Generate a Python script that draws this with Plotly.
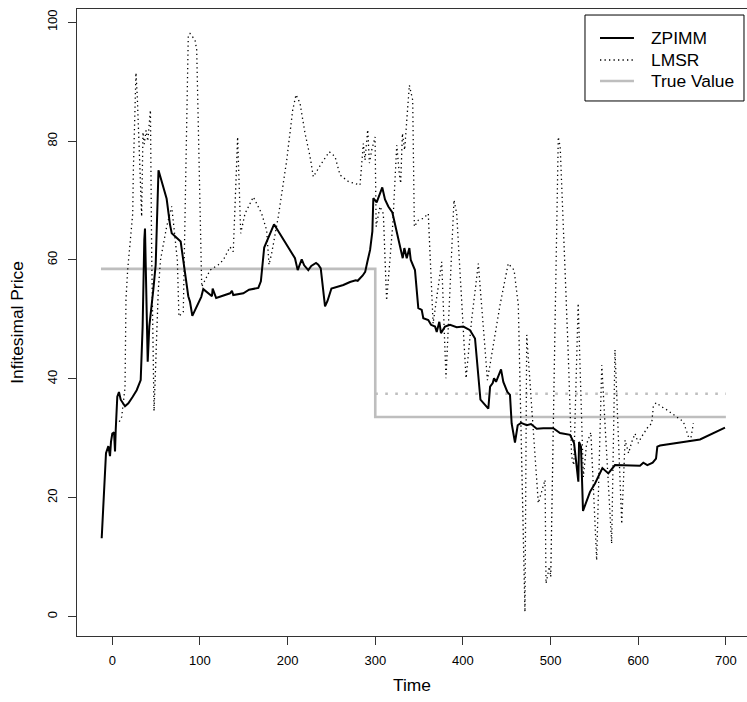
import plotly.graph_objects as go

# ZPIMM market-maker price path
zpimm_t = [-12.1, -7.2, -4.5, -2.6, -1.5, 0, 2, 3.1, 3.9, 5.7, 7.6, 9.6, 14.5, 18.3, 23.3, 27.8, 32.4,
           34.6, 36.5, 37.3, 40.4, 42.2, 46.8, 49.5, 52.7, 62, 65.8, 67.8, 78, 82.2, 86.7, 88.6, 91.3,
           101.5, 103.8, 113.7, 114.5, 118.5, 134.3, 136.5, 138, 149.5, 156, 166.6, 169.5, 173.3, 179.9,
           184.5, 208.4, 211.5, 216.1, 218.9, 223.6, 227, 232.4, 235, 237.8, 240.3, 242.7, 245.5, 250,
           263.6, 267.5, 271.2, 277.7, 280, 285.7, 288.5, 291, 294.1, 296.7, 297.8, 301.6, 308, 311.1,
           314.9, 319.5, 324.5, 328.2, 331.3, 333.2, 335.9, 338.9, 340.5, 345.3, 349.1, 353, 354.8,
           360.5, 363.6, 368.2, 370.1, 373.1, 375, 379.6, 385.3, 392.9, 400.5, 408.1, 413.8, 420, 429,
           431, 434, 435.5, 437.8, 443.5, 446.1, 450.7, 453.7, 455.6, 459.4, 462.5, 466.3, 472.8, 477.7,
           484.2, 491.7, 503.1, 510.8, 522.2, 526.8, 531.7, 532.5, 534.7, 537, 545, 550.7, 559.1, 565.9,
           573.5, 586.9, 602, 605.8, 610.4, 616.5, 620.3, 621.8, 624.9, 670.5, 699]
zpimm_p = [13.2, 27.5, 28.7, 27.0, 29.4, 30.8, 31.0, 27.8, 31.4, 37.0, 37.8, 36.5, 35.4, 35.9, 37.0, 38.1, 39.8,
           48.8, 63.4, 65.3, 42.9, 48.8, 55.0, 59.2, 75.1, 70.3, 66.0, 64.5, 63.1, 58.3, 53.9, 53.0, 50.6,
           53.8, 55.1, 53.9, 55.2, 53.6, 54.4, 54.8, 54.1, 54.4, 55.0, 55.3, 56.4, 62.1, 64.5,
           66.0, 60.3, 58.3, 60.1, 59.1, 58.3, 59.0, 59.5, 59.2, 58.6, 55.5, 52.2, 53.1, 55.2,
           55.8, 56.1, 56.3, 56.6, 56.5, 57.4, 58.0, 59.7, 61.7, 64.8, 70.4, 69.7, 72.2, 70.2,
           69.0, 68.0, 64.5, 62.0, 60.3, 62.0, 60.3, 62.0, 60.0, 58.3, 51.9, 51.6, 50.2,
           49.9, 49.1, 48.8, 47.9, 49.6, 47.7, 48.8, 49.1, 48.7, 48.8, 48.2, 46.8, 36.5, 35.0,
           38.7, 39.3, 40.1, 39.5, 41.6, 39.5, 37.8, 37.3, 32.5, 29.3, 32.2, 32.6, 32.2, 32.4,
           31.6, 31.7, 31.7, 30.9, 30.6, 29.2, 22.7, 29.4, 28.6, 17.8, 21.0, 22.4, 25.0, 24.1,
           25.5, 25.4, 25.4, 25.9, 25.5, 25.9, 26.6, 28.6, 28.8, 29.8, 31.8]

# LMSR market-maker price path
lmsr_t = [8, 10.7, 14.5, 15.6, 17.5, 20.5, 23.3, 24, 25.9, 27, 28.5, 33.5, 35, 36.5, 38.5, 40.5, 43.5, 45,
          47.6, 50, 52.5, 55, 58.2, 62, 67.8, 71.5, 74.2, 76, 81, 86.7, 88.6, 94.4, 96.3, 102, 105.8,
          111.5, 121, 126.6, 134.3, 138, 143, 146.5, 151.4, 160.9, 170.4, 176.1, 178.8, 181.8, 189.4,
          199, 205.8, 209.6, 214.1, 219.9, 225.6, 229.3, 238.9, 247.6, 254.1, 259.8, 269.3, 282.6,
          286.4, 288.3, 291.4, 293.3, 296, 299.8, 301, 305.4, 309.2, 313, 320, 324.5, 327.4, 329, 331,
          333.5, 338.9, 342.7, 344.6, 349.1, 354.8, 360.5, 366, 371, 375.8, 380.7, 385, 389.8, 392.9,
          403.6, 410, 417.6, 428, 435, 442.3, 451.7, 458.4, 463.2, 470.8, 472.8, 486, 493.7, 494.8,
          498.6, 500.2, 508.8, 511, 520, 524, 526.5, 531.5, 537.4, 541, 546, 552.6, 558.4, 569.7,
          573.5, 581.2, 585, 589, 592.6, 596.4, 600, 604, 611.5, 615.4, 617.2, 620.3, 626.8, 632.5,
          643.9, 651.5, 657.2, 659.1, 662.9]
lmsr_p = [32.8, 33.6, 38.5, 53.3, 58.3, 63.0, 67.8, 75.0, 83.5, 91.5, 87.5, 67.3, 81.5, 79.5, 81.8, 80.0, 85.2, 60.0,
          34.6, 45.0, 55.0, 60.0, 62.8, 65.6, 69.0, 63.9, 60.0, 50.5, 51.3, 97.8, 98.1, 97.0, 95.3, 55.5, 56.6,
          58.3, 59.2, 60.0, 62.2, 61.4, 80.7, 64.5, 67.8, 70.6, 67.8, 65.0, 59.2, 61.1, 67.3,
          76.8, 85.2, 87.8, 86.4, 81.3, 77.4, 74.0, 76.3, 78.2, 77.4, 74.3, 73.2, 72.6,
          79.6, 76.8, 81.9, 76.3, 78.5, 80.7, 65.6, 69.0, 67.8, 53.2, 66.0, 79.3, 74.6, 72.9, 81.3,
          78.5, 89.4, 86.9, 65.6, 66.7, 67.0, 67.8, 49.3, 55.0, 59.7, 40.1, 55.0, 70.1, 67.8,
          40.1, 50.0, 59.4, 39.8, 46.0, 52.4, 59.4, 58.3, 52.4, 0.8, 47.4, 19.1, 23.0, 5.6,
          8.4, 6.7, 80.7, 79.0, 45.0, 27.0, 25.5, 52.7, 23.5, 29.0, 31.0, 9.5, 42.3, 12.3,
          44.9, 15.6, 29.7, 27.5, 29.4, 30.8, 29.2, 30.3, 32.0, 32.5, 35.3, 36.0, 35.3, 34.8,
          33.6, 32.8, 30.3, 29.2, 32.5]

# True value of the asset (steps down at t = 300)
true_t = [-12.9, 300, 300, 700]
true_p = [58.5, 58.5, 33.6, 33.6]

# Post-shock level reached by the LMSR
lmsr_level_t = [300, 700]
lmsr_level_p = [37.5, 37.5]

x_ticks = [0, 100, 200, 300, 400, 500, 600, 700]
y_ticks = [0, 20, 40, 60, 80, 100]

FONT = "Liberation Sans, Arial, Helvetica, sans-serif"
GRAY = "#bebebe"

ZPIMM_LINE = dict(color="black", width=2)
LMSR_LINE = dict(color="black", width=1.3, dash="1.3px,3.2px")
TRUE_LINE = dict(color=GRAY, width=2.6)

fig = go.Figure()
fig.add_trace(go.Scatter(x=true_t, y=true_p, mode="lines", name="True Value", line=TRUE_LINE))
fig.add_trace(go.Scatter(x=lmsr_level_t, y=lmsr_level_p, mode="lines", name="LMSR level",
                         line=dict(color=GRAY, width=2.6, dash="2.6px,7.4px")))
fig.add_trace(go.Scatter(x=lmsr_t, y=lmsr_p, mode="lines", name="LMSR", line=LMSR_LINE))
fig.add_trace(go.Scatter(x=zpimm_t, y=zpimm_p, mode="lines", name="ZPIMM", line=ZPIMM_LINE))

# Boxed legend in the top-right corner, drawn in paper coordinates
legend_entries = [("ZPIMM", ZPIMM_LINE), ("LMSR", LMSR_LINE), ("True Value", TRUE_LINE)]
box_x0, box_x1, box_y0, box_y1 = 0.7582, 0.9955, 0.8533, 0.9904
row_y = [0.9537, 0.9187, 0.8852]
seg_x0, seg_x1, text_x = 0.7806, 0.8313, 0.8537

shapes = [dict(type="rect", xref="paper", yref="paper", x0=box_x0, x1=box_x1, y0=box_y0, y1=box_y1,
               line=dict(color="black", width=1), fillcolor="white", layer="above")]
annotations = []
for (label, style), yy in zip(legend_entries, row_y):
    shapes.append(dict(type="line", xref="paper", yref="paper", x0=seg_x0, x1=seg_x1, y0=yy, y1=yy,
                       line=dict(color=style["color"], width=style["width"],
                                 dash=style.get("dash", "solid")), layer="above"))
    annotations.append(dict(xref="paper", yref="paper", x=text_x, y=yy, text=label, showarrow=False,
                            xanchor="left", yanchor="middle", font=dict(size=17.4, family=FONT)))

fig.update_layout(
    width=747, height=702,
    margin=dict(l=77, r=0, t=9, b=66),
    paper_bgcolor="white", plot_bgcolor="white",
    font=dict(family=FONT, color="black"),
    showlegend=False,
    shapes=shapes, annotations=annotations,
)
fig.update_xaxes(
    range=[-40.27, 724.1], tickvals=x_ticks, ticks="outside", ticklen=8, tickwidth=1,
    tickcolor="#333", showline=True, linecolor="#333", linewidth=1.2, mirror=True,
    showgrid=False, zeroline=False, tickfont=dict(size=13), ticklabelstandoff=4,
    title=dict(text="Time", font=dict(size=17.4), standoff=12),
)
fig.update_yaxes(
    range=[-3.25, 102.22], tickvals=y_ticks, ticks="outside", ticklen=8, tickwidth=1,
    tickcolor="#333", showline=True, linecolor="#333", linewidth=1.2, mirror=False,
    showgrid=False, zeroline=False, tickfont=dict(size=13), tickangle=-90, ticklabelstandoff=6,
    title=dict(text="Infitesimal Price", font=dict(size=17.4), standoff=16),
)

fig.write_html("out.html")
